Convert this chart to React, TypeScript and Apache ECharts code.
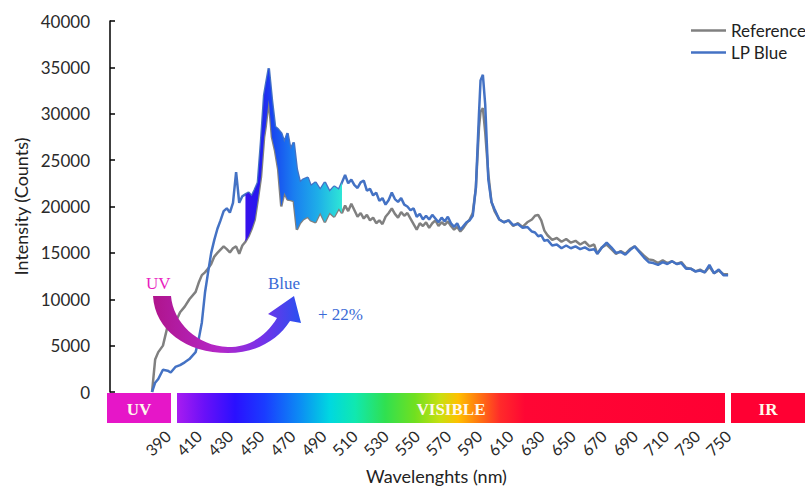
import React, { useEffect, useRef } from "react";
import * as echarts from "echarts";

const wavelengths = [
  380, 382, 384, 387, 390, 392, 395, 398, 401, 404, 408, 410, 412, 414, 416, 418, 420, 422, 424, 426,
  428, 430, 432, 434, 436, 438, 440, 442, 444, 446, 448, 450, 452, 453, 455, 457, 459, 461, 463, 465,
  467, 469, 471, 473, 475, 477, 480, 482, 485, 488, 491, 494, 497,
  500, 502, 504, 506, 508, 510, 512, 514, 516, 518, 520, 522, 524, 526, 528, 530, 532, 534, 536, 538,
  540, 542, 544, 546, 548, 550, 552, 554, 556, 558, 560, 562, 564, 566, 568, 570, 572, 574, 576, 578,
  580, 582, 584, 586, 588, 590, 591, 592.5, 594, 596, 598,
  600, 603, 606, 609, 612, 615, 618, 621, 624, 626, 628, 630, 632, 634, 637, 640, 643, 646, 649, 652,
  655, 658, 661, 664, 666, 669, 672, 675, 678, 681, 684, 687, 690, 693, 696, 699, 702, 705, 708, 711,
  714, 717, 720, 723, 726, 729, 732, 735, 738, 741, 744, 747, 750,
];

const referenceCounts = [
  0, 3500, 4300, 5000, 7100, 6800, 7500, 8600, 9200, 10000, 10800, 11800, 12600, 12900, 13300, 13800, 14600, 15000, 15350, 15700,
  15400, 15050, 15500, 15700, 14900, 15800, 16200, 16800, 17600, 18600, 20800, 23200, 27500, 28600, 31500, 27500, 26000, 24000, 20000, 21500,
  20750, 20700, 20600, 17500, 18200, 18600, 18900, 18500, 18300, 19350, 18300, 19350, 18900,
  19800, 19300, 20100, 19500, 20300, 19600, 18900, 19300, 18700, 19100, 18500, 18800, 18200, 18500, 18100, 18900, 19300, 19800, 19200, 18800,
  19400, 19000, 19300, 18700, 18100, 17500, 18200, 17900, 18300, 17700, 18200, 18500, 17900, 18300, 18000, 18400, 17900, 17500, 17800, 17300,
  17700, 18200, 18600, 19300, 22000, 28500, 30200, 30600, 28000, 23500, 20500,
  19500, 18600, 18300, 18500, 17900, 18200, 17800, 18300, 18600, 19000, 19100, 18500, 17400, 16900, 16400, 16600, 16200, 16500, 16100, 16300,
  15900, 16200, 15700, 15900, 14900, 15600, 15900, 15400, 14900, 15200, 14900, 15400, 15700, 15200, 14700, 14300, 14200, 13900, 14200, 13900,
  14100, 13800, 14000, 13400, 13300, 13000, 13200, 12900, 13500, 12800, 13100, 12700, 12700,
];

const lpBlueCounts = [
  0, 1000, 1400, 2400, 2300, 2100, 2700, 2900, 3200, 3550, 4300, 5700, 7500, 10700, 12900, 15000, 16400, 17600, 18500, 19500,
  19800, 19350, 20400, 23700, 20400, 21100, 21300, 21500, 21100, 21800, 22600, 27000, 32000, 33000, 34900, 31500, 28600, 28300, 27900, 26900,
  27900, 26100, 26900, 24000, 22600, 22900, 23100, 22200, 22600, 21800, 22600, 21600, 22150,
  21800, 22600, 23400, 22500, 22900, 22300, 22000, 22600, 22800, 21700, 21900, 21200, 21500, 20600, 20900, 20200, 20700, 21500, 20800, 20500,
  20900, 20200, 20000, 19600, 19800, 18900, 19200, 18600, 19000, 18600, 19100, 18700, 18300, 18800, 18400, 18900, 18200, 17800, 18200, 17500,
  17900, 18300, 18500, 19000, 22000, 30000, 33600, 34200, 31000, 22900, 20500,
  19700, 18600, 18300, 18500, 18000, 18100, 17700, 17800, 17300, 17200, 16800, 16900, 16300, 16400, 15800, 15900, 15500, 15800, 15500, 15700,
  15400, 15600, 15300, 15400, 14900, 15600, 16100, 15600, 15000, 15100, 14800, 15300, 15700, 15100, 14500, 14000, 13900, 13700, 14000, 13800,
  14100, 13800, 13900, 13300, 13300, 13000, 13100, 12900, 13700, 12800, 13200, 12600, 12600,
];

const xTickLabels = [390, 410, 430, 450, 470, 490, 510, 530, 550, 570, 590, 610, 630, 650, 670, 690, 710, 730, 750];
const gainRange = [440, 503];

const FONT = "Lato, 'Open Sans', sans-serif";
const SERIF = "'Liberation Serif', 'DejaVu Serif', serif";

const arrowPath =
  "M153 296 L171 296 C173 322 197 346 228 347 C250 347 266 336 277 318 L268 314 L294 296 L301 323 L290 321 C278 340 256 353 228 353 C186 353 155 330 153 296 Z";

export default function App() {
  const ref = useRef<HTMLDivElement>(null);

  useEffect(() => {
    if (!ref.current) return;
    echarts.graphic.registerShape("uvArrow", echarts.graphic.extendPath(arrowPath, {}) as any);
    const chart = echarts.init(ref.current, null, { renderer: "svg" });

    const refSeries = wavelengths.map((w, i) => [w, referenceCounts[i]]);
    const lpSeries = wavelengths.map((w, i) => [w, lpBlueCounts[i]]);

    const option: any = {
      animation: false,
      backgroundColor: "#ffffff",
      grid: { left: 110, top: 21, width: 695, height: 372, containLabel: false },
      legend: {
        data: ["Reference", "LP Blue"],
        orient: "vertical",
        left: 686,
        top: 17,
        itemWidth: 35,
        itemHeight: 2.5,
        itemGap: 5,
        icon: "rect",
        selectedMode: false,
        textStyle: { fontFamily: FONT, fontSize: 17, color: "#222" },
      },
      xAxis: {
        type: "value",
        min: 353,
        max: 799.4,
        name: "Wavelenghts (nm)",
        nameLocation: "middle",
        nameGap: 75,
        nameTextStyle: { fontFamily: FONT, fontSize: 18, color: "#222", padding: [0, 42, 0, 0] },
        axisLine: { show: false },
        axisTick: { show: false },
        splitLine: { show: false },
        axisLabel: {
          customValues: xTickLabels,
          rotate: 45,
          margin: 41,
          fontFamily: FONT,
          fontSize: 16,
          color: "#2a2a2a",
        },
      },
      yAxis: {
        type: "value",
        min: 0,
        max: 40000,
        interval: 5000,
        name: "Intensity (Counts)",
        nameLocation: "middle",
        nameGap: 80,
        nameTextStyle: { fontFamily: FONT, fontSize: 18, color: "#222" },
        axisLine: { show: true, lineStyle: { color: "#000", width: 1.5 } },
        axisTick: { show: true, inside: true, length: 5, lineStyle: { color: "#000", width: 1.5 } },
        splitLine: { show: false },
        axisLabel: {
          margin: 20,
          fontFamily: FONT,
          fontSize: 17,
          color: "#2a2a2a",
          formatter: (v: number) => String(v),
        },
      },
      series: [
        {
          name: "Reference",
          type: "line",
          data: refSeries,
          symbol: "none",
          z: 2,
          lineStyle: { color: "#808080", width: 2.5 },
          itemStyle: { color: "#808080" },
        },
        {
          name: "LP Blue",
          type: "line",
          data: lpSeries,
          symbol: "none",
          z: 3,
          lineStyle: { color: "#4472c4", width: 2.5 },
          itemStyle: { color: "#4472c4" },
        },
        {
          name: "gain",
          type: "custom",
          z: 4,
          data: [[gainRange[0], 0]],
          renderItem: (_params: any, api: any) => {
            const pts: number[][] = [];
            for (let i = 0; i < wavelengths.length; i++) {
              const w = wavelengths[i];
              if (w >= gainRange[0] && w <= gainRange[1]) pts.push(api.coord([w, lpBlueCounts[i]]));
            }
            for (let i = wavelengths.length - 1; i >= 0; i--) {
              const w = wavelengths[i];
              if (w >= gainRange[0] && w <= gainRange[1]) pts.push(api.coord([w, referenceCounts[i]]));
            }
            return {
              type: "polygon",
              shape: { points: pts },
              style: {
                fill: new echarts.graphic.LinearGradient(0, 0, 1, 0, [
                  { offset: 0, color: "#3810ec" },
                  { offset: 0.14, color: "#2418f0" },
                  { offset: 0.28, color: "#1846f0" },
                  { offset: 0.5, color: "#1a7ef0" },
                  { offset: 0.75, color: "#1eaee8" },
                  { offset: 1, color: "#2ee6d6" },
                ]),
              },
            };
          },
        },
      ],
      graphic: [
        { type: "rect", z: 10, shape: { x: 107, y: 393, width: 64, height: 30 }, style: { fill: "#e616c8" } },
        {
          type: "rect",
          z: 10,
          shape: { x: 177, y: 393, width: 548, height: 30 },
          style: {
            fill: new echarts.graphic.LinearGradient(0, 0, 1, 0, [
              { offset: 0, color: "#a81cf0" },
              { offset: 0.05, color: "#6a10f8" },
              { offset: 0.106, color: "#2a10ff" },
              { offset: 0.16, color: "#1a3cff" },
              { offset: 0.224, color: "#0c8cf4" },
              { offset: 0.279, color: "#00d8e0" },
              { offset: 0.325, color: "#10e8b0" },
              { offset: 0.38, color: "#30e050" },
              { offset: 0.434, color: "#70e020" },
              { offset: 0.48, color: "#c8e010" },
              { offset: 0.513, color: "#ffc000" },
              { offset: 0.55, color: "#ff7810" },
              { offset: 0.59, color: "#ff2a2a" },
              { offset: 0.635, color: "#ff0634" },
              { offset: 1, color: "#ff0033" },
            ]),
          },
        },
        { type: "rect", z: 10, shape: { x: 731, y: 393, width: 74, height: 30 }, style: { fill: "#ff0033" } },
        {
          type: "text", z: 11, x: 139, y: 409,
          style: { text: "UV", fill: "#fff8ec", font: `bold 17px ${SERIF}`, align: "center", verticalAlign: "middle" },
        },
        {
          type: "text", z: 11, x: 451, y: 409,
          style: { text: "VISIBLE", fill: "#fff8ec", font: `bold 17px ${SERIF}`, align: "center", verticalAlign: "middle" },
        },
        {
          type: "text", z: 11, x: 768, y: 409,
          style: { text: "IR", fill: "#fff8ec", font: `bold 17px ${SERIF}`, align: "center", verticalAlign: "middle" },
        },
        {
          type: "uvArrow",
          z: 12,
          x: 0,
          y: 0,
          style: {
            fill: new echarts.graphic.LinearGradient(0, 0, 1, 0, [
              { offset: 0, color: "#b0148c" },
              { offset: 0.45, color: "#b428c8" },
              { offset: 0.72, color: "#7a30e8" },
              { offset: 1, color: "#2850f0" },
            ]),
          },
        },
        {
          type: "text", z: 12, x: 146, y: 283,
          style: { text: "UV", fill: "#e91ec0", font: `17px ${SERIF}`, verticalAlign: "middle" },
        },
        {
          type: "text", z: 12, x: 268, y: 283,
          style: { text: "Blue", fill: "#3a6ad6", font: `17px ${SERIF}`, verticalAlign: "middle" },
        },
        {
          type: "text", z: 12, x: 318, y: 314,
          style: { text: "+ 22%", fill: "#3a6ad6", font: `17px ${SERIF}`, verticalAlign: "middle" },
        },
      ],
    };

    chart.setOption(option);
    return () => chart.dispose();
  }, []);

  return (
    <div
      ref={ref}
      style={{ position: "fixed", left: 0, top: 0, width: 805, height: 490, background: "#fff" }}
    />
  );
}
